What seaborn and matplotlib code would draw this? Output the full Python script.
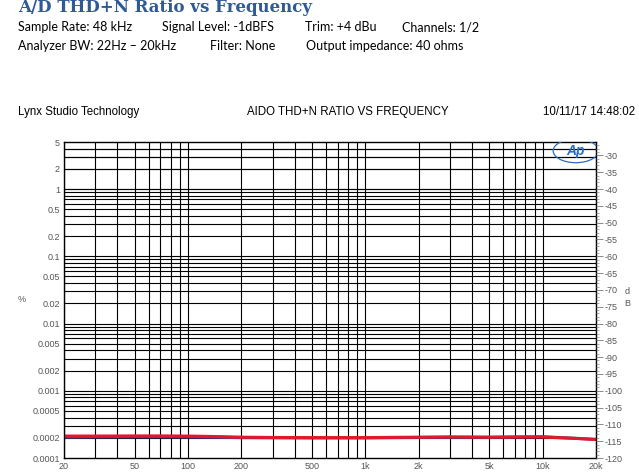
import numpy as np
import pandas as pd
import matplotlib
matplotlib.use("Agg")
import matplotlib.pyplot as plt
import seaborn as sns
from matplotlib.ticker import FixedLocator, NullFormatter, NullLocator
from matplotlib.patches import Ellipse

# ---- data ----
freqs = [20, 30, 50, 70, 100, 150, 200, 300, 500, 700, 1000, 1500, 2000, 3000,
         5000, 7000, 10000, 15000, 20000]
thd_ch1 = [0.000212, 0.000212, 0.000213, 0.000213, 0.000212, 0.000208, 0.000204,
           0.000202, 0.000201, 0.000201, 0.000201, 0.000203, 0.000204, 0.000206,
           0.000204, 0.000205, 0.000205, 0.000196, 0.000188]
thd_ch2 = [0.000204, 0.000205, 0.000206, 0.000206, 0.000205, 0.000203, 0.000201,
           0.000200, 0.000199, 0.000199, 0.000199, 0.000201, 0.000202, 0.000203,
           0.000203, 0.000205, 0.000207, 0.000197, 0.000189]

x_ticks = [20, 50, 100, 200, 500, 1000, 2000, 5000, 10000, 20000]
x_labels = ["20", "50", "100", "200", "500", "1k", "2k", "5k", "10k", "20k"]
y_ticks = [5, 2, 1, 0.5, 0.2, 0.1, 0.05, 0.02, 0.01, 0.005, 0.002, 0.001,
           0.0005, 0.0002, 0.0001]
y_labels = ["5", "2", "1", "0.5", "0.2", "0.1", "0.05", "0.02", "0.01", "0.005",
            "0.002", "0.001", "0.0005", "0.0002", "0.0001"]
db_ticks = list(range(-30, -121, -5))

df = pd.DataFrame({
    "freq": freqs * 2,
    "thd": thd_ch2 + thd_ch1,
    "ch": ["Ch2"] * len(freqs) + ["Ch1"] * len(freqs),
})

sns.set_theme(style="white")
plt.rcParams["font.family"] = ["Liberation Sans", "DejaVu Sans"]

fig = plt.figure(figsize=(6.39, 4.75), dpi=100)
ax = fig.add_axes([64 / 639, 1 - 458 / 475, (596 - 64) / 639, (458 - 142) / 475])

sns.lineplot(data=df, x="freq", y="thd", hue="ch",
             palette={"Ch2": "#5a3c8c", "Ch1": "#e3192b"},
             linewidth=2.2, ax=ax, legend=False, sort=False)

ax.set_xscale("log")
ax.set_yscale("log")
ax.set_xlim(20, 20000)
ax.set_ylim(0.0001, 5)

# gridlines
xgrid = [m * 10 ** e for e in range(1, 5) for m in range(1, 10)]
xgrid = [v for v in xgrid if 20 <= v <= 20000]
ygrid = [m * 10 ** e for e in range(-4, 1) for m in range(1, 10)] + [1, 2, 3, 4, 5]
for v in xgrid:
    ax.axvline(v, color="black", lw=0.8, zorder=1)
for v in ygrid:
    if 0.0001 < v < 5:
        ax.axhline(v, color="black", lw=0.8, zorder=1)

ax.xaxis.set_major_locator(FixedLocator(x_ticks))
ax.set_xticklabels(x_labels)
ax.xaxis.set_minor_locator(NullLocator())
ax.yaxis.set_major_locator(FixedLocator(y_ticks))
ax.set_yticklabels(y_labels)
ax.yaxis.set_minor_locator(NullLocator())
ax.tick_params(axis="both", which="major", length=0, pad=3,
               labelsize=6.5, labelcolor="#555555")
ax.set_xlabel("")
ax.set_ylabel("")
for s in ax.spines.values():
    s.set_color("black")
    s.set_linewidth(1.0)

# right dB axis
ax2 = ax.twinx()
ax2.set_ylim(-120, 20 * np.log10(5 / 100))
ax2.yaxis.set_major_locator(FixedLocator(db_ticks))
ax2.set_yticklabels([str(t) for t in db_ticks])
ax2.yaxis.set_minor_locator(FixedLocator(list(range(-27, -121, -1))))
ax2.yaxis.set_minor_formatter(NullFormatter())
ax2.tick_params(axis="y", which="major", length=5, width=0.6, color="#777777",
                labelsize=6.5, labelcolor="#555555", pad=1)
ax2.tick_params(axis="y", which="minor", length=2.5, width=0.5, color="#888888")
ax2.grid(False)
for s in ax2.spines.values():
    s.set_visible(False)

# AP logo
ax.text(0.962, 0.972, "Ap", transform=ax.transAxes, ha="center", va="center",
        fontsize=10, fontstyle="italic", fontweight="bold", color="#2a6fc4", zorder=5)
ax.add_patch(Ellipse((0.962, 0.972), 0.085, 0.075, transform=ax.transAxes,
                     fill=False, ec="#2a6fc4", lw=0.9, zorder=5))

# axis labels
fig.text(22 / 639, 1 - 300 / 475, "%", fontsize=6.5, color="#555555",
         ha="center", va="center")
fig.text(627 / 639, 1 - 292 / 475, "d", fontsize=6.5, color="#555555",
         ha="center", va="center")
fig.text(627 / 639, 1 - 303 / 475, "B", fontsize=6.5, color="#555555",
         ha="center", va="center")

# headers
fig.text(18 / 639, 1 - 7 / 475, "A/D THD+N Ratio vs Frequency",
         family=["DejaVu Serif"], fontweight="bold", fontsize=12,
         color="#2f5a94", ha="left", va="center")
hdr = dict(family=["Lato", "DejaVu Sans"], fontsize=9, color="black",
           ha="left", va="center")
fig.text(18 / 639, 1 - 27 / 475, "Sample Rate: 48 kHz", **hdr)
fig.text(162 / 639, 1 - 27 / 475, "Signal Level: -1dBFS", **hdr)
fig.text(305 / 639, 1 - 27 / 475, "Trim: +4 dBu", **hdr)
fig.text(402 / 639, 1 - 27 / 475, "Channels: 1/2", **hdr)
fig.text(18 / 639, 1 - 46 / 475, "Analyzer BW: 22Hz \u2013 20kHz", **hdr)
fig.text(210 / 639, 1 - 46 / 475, "Filter: None", **hdr)
fig.text(306 / 639, 1 - 46 / 475, "Output impedance: 40 ohms", **hdr)

sub = dict(fontsize=8.3, color="black", va="center")
fig.text(18 / 639, 1 - 112 / 475, "Lynx Studio Technology", ha="left", **sub)
fig.text(348 / 639, 1 - 112 / 475, "AIDO THD+N RATIO VS FREQUENCY", ha="center", **sub)
fig.text(543 / 639, 1 - 112 / 475, "10/11/17 14:48:02", ha="left", **sub)

fig.savefig("out.png", dpi=100)
